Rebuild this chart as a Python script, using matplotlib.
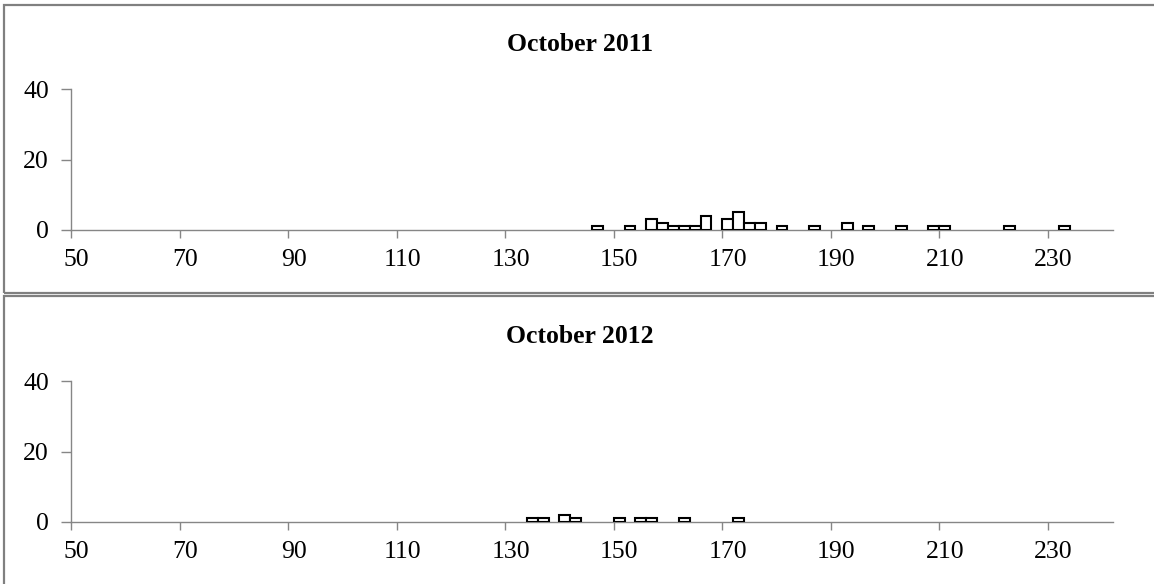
import matplotlib.pyplot as plt
from matplotlib.patches import Rectangle

# Histogram bins (left edge, 2 units wide) and counts
oct2011_bins = [146, 152, 156, 158, 160, 162, 164, 166, 170, 172, 174, 176,
                180, 186, 192, 196, 202, 208, 210, 222, 232]
oct2011_counts = [1, 1, 3, 2, 1, 1, 1, 4, 3, 5, 2, 2,
                  1, 1, 2, 1, 1, 1, 1, 1, 1]

oct2012_bins = [134, 136, 140, 142, 150, 154, 156, 162, 172]
oct2012_counts = [1, 1, 2, 1, 1, 1, 1, 1, 1]

titles = ["October 2011", "October 2012"]
x_ticks = [50, 70, 90, 110, 130, 150, 170, 190, 210, 230]
y_ticks = [0, 20, 40]

W, H = 1154, 584
fig = plt.figure(figsize=(W / 100, H / 100), dpi=100)
plt.rcParams['font.family'] = ['Liberation Serif', 'DejaVu Serif']

gray = "#868686"

# panel frames (pixel coords -> figure fraction)
for top, bottom in [(5, 293), (296, 590)]:
    fig.patches.append(Rectangle((4 / W, 1 - bottom / H), 1.2, (bottom - top) / H,
                                 transform=fig.transFigure, fill=False,
                                 edgecolor="#808080", linewidth=1.6))

panels = [(oct2011_bins, oct2011_counts), (oct2012_bins, oct2012_counts)]
for k, (bins, counts) in enumerate(panels):
    off = 292 * k
    y0, y40 = 230 + off, 89.3 + off
    ax = fig.add_axes([71 / W, 1 - y0 / H, (1113 - 71) / W, (y0 - y40) / H])
    ax.bar(bins, counts, width=2, align='edge', color='white',
           edgecolor='black', linewidth=1.5, zorder=3)
    ax.set_xlim(50, 242)
    ax.set_ylim(0, 40)
    ax.set_xticks(x_ticks)
    ax.set_xticklabels([])
    ax.set_xticks([t + 1 for t in x_ticks], minor=True)
    ax.set_xticklabels([str(t) for t in x_ticks], minor=True)
    ax.tick_params(axis='x', which='major', direction='out', length=6,
                   width=1, color=gray)
    ax.tick_params(axis='x', which='minor', length=0, pad=14, labelsize=18.5)
    ax.set_yticks(y_ticks)
    ax.tick_params(axis='y', direction='out', length=7, width=1, color=gray,
                   pad=9, labelsize=18.5)
    for s in ['top', 'right']:
        ax.spines[s].set_visible(False)
    for s in ['left', 'bottom']:
        ax.spines[s].set_color(gray)
        ax.spines[s].set_linewidth(1.0)
    ax.set_facecolor('none')
    fig.text(580 / W, 1 - (50.7 + off) / H, titles[k], ha='center',
             va='baseline', fontsize=18.5, fontweight='bold')

fig.savefig("out.png", dpi=100)
